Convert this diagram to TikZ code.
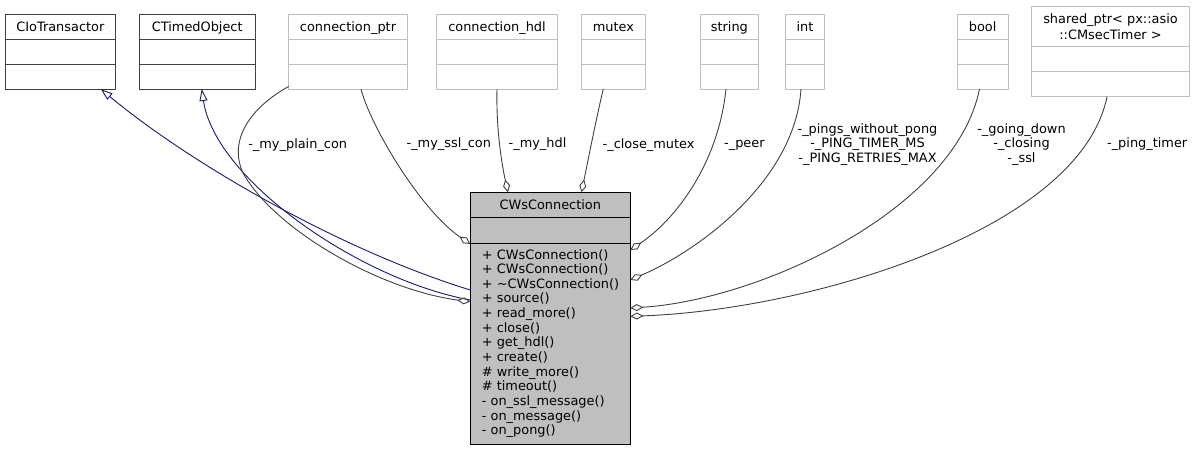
\documentclass[tikz,border=0pt]{standalone}
\usepackage{fontspec}
\setmainfont{DejaVu Sans}
\usetikzlibrary{arrows.meta,calc}

\definecolor{grigio75}{HTML}{BFBFBF}
\definecolor{grigio25}{HTML}{404040}
\definecolor{blunotte}{HTML}{191970}

\begin{document}
\begin{tikzpicture}[x=1pt, y=-1pt,
    font=\fontsize{12.9}{14.4}\selectfont,
    classe/.style={draw=grigio25, line width=1pt, minimum height=75, inner sep=0pt, outer sep=0pt, anchor=north west},
    esterna/.style={classe, draw=grigio75},
    titolo/.style={anchor=base, inner sep=0pt},
    etichetta/.style={align=center, inner sep=0pt},
    eredita/.style={draw=blunotte, line width=0.9pt, -{Triangle[open, length=12pt, width=8pt]}},
    membro/.style={draw=grigio25, line width=0.9pt, -{Diamond[open, length=13pt, width=7pt]}}]

    \useasboundingbox (0,0) rectangle (1195,451);

    % Classi base
    \foreach \nome/\px/\w/\tit in {ciot/5/110.7/CIoTransactor, ctim/139.5/115.5/CTimedObject} {
        \node[classe, minimum width=\w] (\nome) at (\px,14) {};
        \node[titolo] (\nome-tit) at ($(\nome.north)+(0,17.5)$) {\tit};
        \draw[grigio25, line width=1pt] ($(\nome.north west)+(0,25)$) -- ($(\nome.north east)+(0,25)$)
            ($(\nome.north west)+(0,50)$) -- ($(\nome.north east)+(0,50)$);
    }

    % Tipi dei membri
    \foreach \nome/\px/\w/\tit in {cptr/288.7/118.6/connection\_ptr, chdl/436.7/120.6/connection\_hdl,
        mtx/581/64.7/mutex, str/700/58.7/string, int/785.7/38.6/int, bool/957.3/50.7/bool} {
        \node[esterna, minimum width=\w] (\nome) at (\px,14) {};
        \node[titolo] (\nome-tit) at ($(\nome.north)+(0,17.5)$) {\tit};
        \draw[grigio75, line width=1pt] ($(\nome.north west)+(0,25)$) -- ($(\nome.north east)+(0,25)$)
            ($(\nome.north west)+(0,50)$) -- ($(\nome.north east)+(0,50)$);
    }
    \node[esterna, minimum width=157.6, minimum height=90] (sptr) at (1031.7,6.7) {};
    \node[etichetta, font=\fontsize{12.9}{16.5}\selectfont] (sptr-tit) at ($(sptr.north)+(0,20)$) {shared\_ptr< px::asio\\::CMsecTimer >};
    \draw[grigio75, line width=1pt] ($(sptr.north west)+(0,40)$) -- ($(sptr.north east)+(0,40)$)
        ($(sptr.north west)+(0,65)$) -- ($(sptr.north east)+(0,65)$);

    % Classe principale
    \node[classe, draw=black, fill=grigio75, minimum width=160, minimum height=252.4] (cws) at (470.3,192.3) {};
    \node[titolo] (cws-tit) at ($(cws.north)+(0,17)$) {CWsConnection};
    \draw[black, line width=1pt] ($(cws.north west)+(0,25.4)$) -- ($(cws.north east)+(0,25.4)$)
        ($(cws.north west)+(0,51)$) -- ($(cws.north east)+(0,51)$);
    \foreach \m [count=\i from 0] in {+ CWsConnection(), + CWsConnection(), + \textasciitilde CWsConnection(),
        + source(), + read\_more(), + close(), + get\_hdl(), + create(), \# write\_more(), \# timeout(),
        - on\_ssl\_message(), - on\_message(), - on\_pong()}
        \node[anchor=base west, inner sep=0pt] (met\i) at ($(cws.north west)+(11.4,66.7+14.64*\i)$) {\m};

    % Ereditarieta'
    \draw[eredita] ($(cws.north west)+(0,97.7)$) .. controls +(-130,-40) and +(89.3,74.3) .. ($(ciot.south)+(40.4,0)$);
    \draw[eredita] ($(cws.north west)+(0,107.7)$) .. controls +(-110,-20) and +(13.3,91) .. ($(ctim.south)+(4.5,0)$);

    % Membri
    \draw[membro] ($(cptr.south west)+(0,-2.6)$) .. controls +(-38.3,21.3) and +(-15,-33) .. (243,173)
        .. controls +(32,57) and +(-90,-11.7) .. ($(cws.north west)+(0,109.4)$);
    \draw[membro] ($(cptr.south west)+(72.3,0)$) .. controls +(9,36) and +(-50,-34) .. ($(cws.north west)+(0,51.7)$);
    \draw[membro] ($(chdl.south west)+(60.3,0)$) .. controls +(-1,41) and +(-6,-27) .. ($(cws.north west)+(37.7,0)$);
    \draw[membro] ($(mtx.south west)+(22.3,0)$) .. controls +(-6.3,26) and +(6.5,-32) .. ($(cws.north west)+(111.2,0)$);
    \draw[membro] ($(str.south west)+(26,0)$) .. controls +(-8,76) and +(44.5,-30) .. ($(cws.north east)+(0,57.7)$);
    \draw[membro] ($(int.south west)+(15.3,0)$) .. controls +(-6,91) and +(69.5,-30) .. ($(cws.north east)+(0,87.7)$);
    \draw[membro] ($(bool.south west)+(22.2,0)$) .. controls +(-24.5,121) and +(129.5,-8) .. ($(cws.north east)+(0,115.7)$);
    \draw[membro] ($(sptr.south west)+(75.3,0)$) .. controls +(-27,133.3) and +(179.5,-6.3) .. ($(cws.north east)+(0,124)$);

    % Etichette
    \node[etichetta] (e-plain) at (297.7,145) {-\_my\_plain\_con};
    \node[etichetta] (e-ssl) at (448.8,144.3) {-\_my\_ssl\_con};
    \node[etichetta] (e-hdl) at (537.5,144) {-\_my\_hdl};
    \node[etichetta] (e-mutex) at (648.6,145) {-\_close\_mutex};
    \node[etichetta] (e-peer) at (744.4,145) {-\_peer};
    \node[etichetta] (e-ping) at (867.5,144.3) {-\_pings\_without\_pong\\-\_PING\_TIMER\_MS\\-\_PING\_RETRIES\_MAX};
    \node[etichetta] (e-stato) at (1021.5,144.3) {-\_going\_down\\-\_closing\\-\_ssl};
    \node[etichetta] (e-timer) at (1147.2,144) {-\_ping\_timer};

\end{tikzpicture}
\end{document}
